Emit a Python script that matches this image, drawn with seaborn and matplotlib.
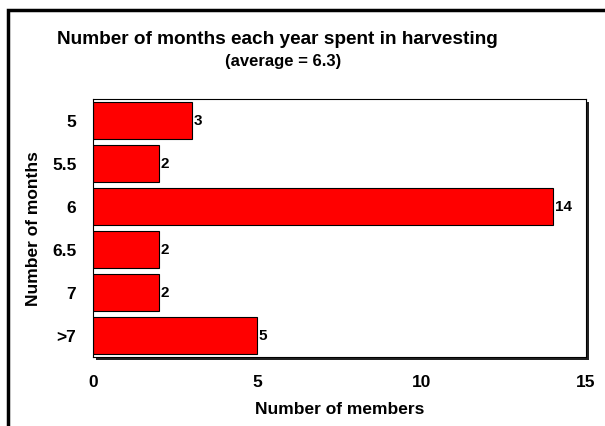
import matplotlib
matplotlib.use("Agg")
import matplotlib.pyplot as plt
from matplotlib.patches import Rectangle
import seaborn as sns
import pandas as pd

months = ["5", "5.5", "6", "6.5", "7", ">7"]
members = [3, 2, 14, 2, 2, 5]
x_ticks = [0, 5, 10, 15]

df = pd.DataFrame({"months": months, "members": members})

sns.set_theme(style="white")
plt.rcParams["font.family"] = ["Liberation Sans", "DejaVu Sans"]
plt.rcParams["font.weight"] = "bold"
plt.rcParams["text.color"] = "black"
plt.rcParams["axes.labelcolor"] = "black"
plt.rcParams["xtick.color"] = "black"
plt.rcParams["ytick.color"] = "black"

fig = plt.figure(figsize=(6.05, 4.27), dpi=100)
ax_rect = [93 / 605, 1 - 358 / 427, (586 - 93) / 605, (358 - 100) / 427]
ax = fig.add_axes(ax_rect)

sns.barplot(data=df, x="members", y="months", orient="h", color="#ff0000",
            saturation=1, width=0.84, edgecolor="black", linewidth=0.8, ax=ax)

for i, v in enumerate(members):
    ax.text(v + 0.05, i, str(v), ha="left", va="center", fontsize=11,
            fontweight="bold", color="black")

ax.set_xlim(0, 15)
ax.set_ylim(5.5, -0.5)
ax.set_xticks(x_ticks)
ax.set_xticklabels([str(t) for t in x_ticks], fontsize=12.5, fontweight="bold")
ax.tick_params(axis="y", labelsize=12.5, pad=12)
ax.tick_params(axis="x", pad=12)
for lab in ax.get_yticklabels():
    lab.set_fontweight("bold")
ax.tick_params(length=0)
ax.set_xlabel("Number of members", fontsize=12.5, fontweight="bold", labelpad=9)
ax.set_ylabel("Number of months", fontsize=12.5, fontweight="bold", labelpad=8)

for s in ax.spines.values():
    s.set_color("black")
    s.set_linewidth(0.8)
    s.set_visible(True)

# drop shadow below and to the right of the plot frame
shadow = Rectangle((ax_rect[0] + 3 / 605, ax_rect[1] - 3 / 427),
                   ax_rect[2], ax_rect[3],
                   transform=fig.transFigure, facecolor="#222222",
                   edgecolor="none", zorder=-1)
fig.patches.append(shadow)
ax.set_facecolor("white")

fig.text(277 / 605, 1 - 40 / 427, "Number of months each year spent in harvesting",
         ha="center", va="center", fontsize=13.7, fontweight="bold")
fig.text(283 / 605, 1 - 62 / 427, "(average = 6.3)",
         ha="center", va="center", fontsize=12, fontweight="bold")

# outer frame of the figure
frame = Rectangle((8 / 605, -0.05), 1.2, 1 - 11 / 427 + 0.05,
                  transform=fig.transFigure, fill=False,
                  edgecolor="black", linewidth=2.5, zorder=5)
fig.patches.append(frame)

fig.savefig("out.png", dpi=100, facecolor="white")
